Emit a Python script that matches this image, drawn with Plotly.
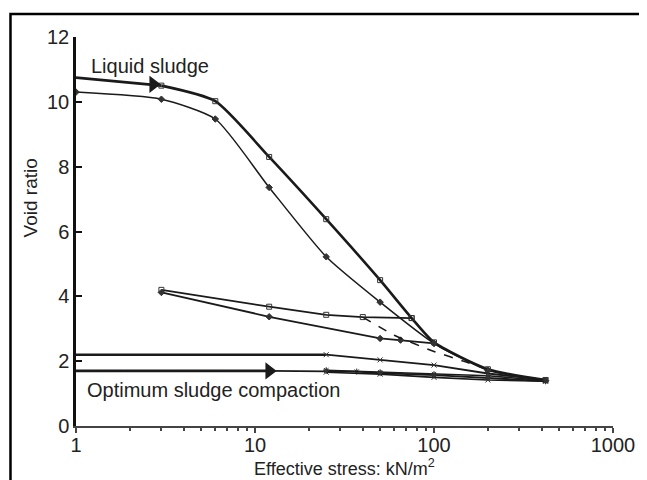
import plotly.graph_objects as go

# ---- data (effective stress kN/m2, void ratio) ----
liquid_lead_x = [1, 3]
liquid_lead_y = [10.75, 10.5]
upper_load_x = [3, 6, 12, 25, 50, 75, 100, 200, 420]
upper_load_y = [10.5, 10.02, 8.3, 6.38, 4.5, 3.33, 2.58, 1.75, 1.42]
lower_load_x = [1, 3, 6, 12, 25, 50, 100, 200, 420]
lower_load_y = [10.3, 10.08, 9.47, 7.36, 5.22, 3.82, 2.55, 1.72, 1.4]
upper_unload_x = [75, 40, 25, 12, 3]
upper_unload_y = [3.33, 3.36, 3.43, 3.68, 4.2]
lower_unload_x = [100, 65, 50, 12, 3]
lower_unload_y = [2.55, 2.65, 2.7, 3.37, 4.12]
reload_x = [40, 60, 100, 150, 200]
reload_y = [3.36, 2.8, 2.3, 1.98, 1.75]
mid_lead_x = [1, 25]
mid_lead_y = [2.2, 2.2]
mid_x = [25, 50, 100, 200, 420]
mid_y = [2.2, 2.04, 1.88, 1.62, 1.42]
opt_lead_x = [1, 12]
opt_lead_y = [1.7, 1.7]
opt_x = [12, 25, 37, 50, 100, 200, 420]
opt_y = [1.7, 1.7, 1.68, 1.63, 1.57, 1.48, 1.38]
opt2_x = [25, 50, 100, 200, 420]
opt2_y = [1.66, 1.6, 1.5, 1.42, 1.38]
opt3_x = [25, 50, 100, 200, 420]
opt3_y = [1.72, 1.66, 1.6, 1.55, 1.4]
arrow_x = [2.7, 12]
arrow_y = [10.54, 1.7]

x_ticks = [1, 10, 100, 1000]
x_minor = [m * d for d in (1, 10, 100) for m in range(2, 10)]
y_ticks = [0, 2, 4, 6, 8, 10, 12]

INK = "#1a1a1a"
fig = go.Figure()

def line(x, y, width=1.6, symbol=None, dash="solid", shape="linear", color=INK):
    fig.add_trace(go.Scatter(
        x=x, y=y, mode="lines+markers" if symbol else "lines",
        line=dict(color=color, width=width, dash=dash, shape=shape,
                  smoothing=0.6 if shape == "spline" else None),
        marker=dict(symbol=symbol or "circle", size=5, color="#333333",
                    line=dict(color="#333333", width=1)),
        showlegend=False, hoverinfo="skip"))

line(liquid_lead_x, liquid_lead_y, width=2.8)
line(upper_load_x, upper_load_y, width=2.6, symbol="square-open", shape="spline")
line(lower_load_x, lower_load_y, width=1.5, symbol="diamond", shape="spline")
line(upper_unload_x, upper_unload_y, width=1.8, symbol="square-open")
line(lower_unload_x, lower_unload_y, width=1.8, symbol="diamond")
line(reload_x, reload_y, width=1.6, dash="dash", shape="spline")
line(mid_lead_x, mid_lead_y, width=2.6)
line(mid_x, mid_y, width=1.8, symbol="x-thin-open")
line(opt_lead_x, opt_lead_y, width=2.8)
line(opt_x, opt_y, width=1.8, symbol="asterisk-open")
line(opt2_x, opt2_y, width=1.6, symbol="x-thin-open")
line(opt3_x, opt3_y, width=1.6, symbol="asterisk-open")

fig.add_trace(go.Scatter(
    x=arrow_x, y=arrow_y, mode="markers",
    marker=dict(symbol="triangle-right", size=15, color=INK),
    showlegend=False, hoverinfo="skip"))

FONT = "Liberation Sans, Arial, sans-serif"
# page body has an 8px default margin: figure is sized/offset to compensate
fig.update_layout(
    width=639, height=472,
    margin=dict(l=68, r=30, t=29, b=54),
    paper_bgcolor="white", plot_bgcolor="white",
    font=dict(family=FONT, size=19, color="#222222"),
    xaxis=dict(type="log", range=[0, 3], tickvals=x_ticks,
               ticktext=[str(v) for v in x_ticks],
               showgrid=False, zeroline=False, showline=True,
               linecolor="#444444", linewidth=2,
               ticks="outside", ticklen=5, tickwidth=1.5, tickcolor="#444444",
               ticklabelstandoff=-5,
               minor=dict(tickvals=x_minor, ticks="outside", ticklen=3,
                          tickwidth=1.5, tickcolor="#444444", showgrid=False),
               tickfont=dict(size=20)),
    yaxis=dict(range=[0, 12], tickvals=y_ticks,
               showgrid=False, zeroline=False, showline=True,
               linecolor="#111111", linewidth=2.5,
               ticks="inside", ticklen=6, tickwidth=2, tickcolor="#111111",
               tickfont=dict(size=20)),
    shapes=[dict(type="rect", xref="paper", yref="paper",
                 x0=-0.122, x1=1.3, y0=-0.4, y1=1.059,
                 line=dict(color="black", width=2.5), layer="below")],
    annotations=[
        dict(text="Liquid sludge", x=0.075, y=11.1, xref="x", yref="y",
             xanchor="left", yanchor="middle", showarrow=False,
             font=dict(size=20)),
        dict(text="Optimum sludge compaction", x=0.05, y=1.1, xref="x", yref="y",
             xanchor="left", yanchor="middle", showarrow=False,
             font=dict(size=20)),
        dict(text="Effective stress: kN/m<sup>2</sup>", x=0.5, y=-0.072,
             xref="paper", yref="paper", xanchor="center", yanchor="top",
             showarrow=False, font=dict(size=18)),
        dict(text="Void ratio", x=-0.085, y=0.586, xref="paper", yref="paper",
             xanchor="center", yanchor="middle", textangle=-90,
             showarrow=False, font=dict(size=19)),
    ],
)
fig.write_html("out.html")
